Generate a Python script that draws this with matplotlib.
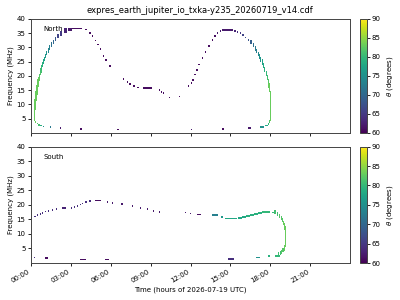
import numpy as np
import matplotlib
matplotlib.use("Agg")
import matplotlib.pyplot as plt
from matplotlib.collections import PolyCollection
from matplotlib.colors import Normalize

title = "expres_earth_jupiter_io_txka-y235_20260719_v14.cdf"
xtick_hours = [0, 3, 6, 9, 12, 15, 18, 21]
xtick_labels = ["00:00", "03:00", "06:00", "09:00", "12:00", "15:00", "18:00", "21:00"]

# North hemisphere: start hour, duration (h), frequency (MHz), frequency span (MHz), theta (deg)
north_t = [3.7, 6.5, 12.0, 14.4, 16.3,
           2.2, 1.4, 0.9, 0.7, 0.55, 0.42, 0.32,
           0.22, 0.21, 0.21, 0.21, 0.22, 0.23, 0.25, 0.27, 0.30, 0.33, 0.36, 0.40,
           0.44, 0.48, 0.53, 0.58, 0.64, 0.70, 0.76, 0.83, 0.90, 0.98, 1.06, 1.15,
           1.25, 1.36, 1.48, 1.62, 1.78, 1.97, 2.20, 2.50, 2.80, 3.1,
           4.1, 4.4, 4.6, 4.8, 5.0, 5.2, 5.4, 5.6, 5.9, 6.9, 7.2, 7.4, 7.7, 8.0,
           8.4, 9.6, 9.8, 9.9, 10.4, 11.1, 11.8, 12.0, 12.15, 12.3, 12.45, 12.6,
           12.85, 13.1, 13.35, 13.6, 13.8, 14.0, 14.2, 14.4,
           15.3, 15.5, 15.7, 15.9, 16.1, 16.3, 16.5, 16.7, 16.85, 16.95, 17.05,
           17.15, 17.25, 17.35, 17.45, 17.55, 17.65, 17.72, 17.8, 17.86,
           17.92, 17.95, 17.97, 17.97, 17.97, 17.97, 17.97, 17.97, 17.97, 17.92,
           17.8, 17.6, 17.2]
north_dur = [0.1, 0.0, 0.1, 0.15, 0.25,
             0.0, 0.0, 0.1, 0.0, 0.0, 0.0, 0.05,
             0.08, 0.08, 0.10, 0.10, 0.12, 0.12, 0.14, 0.15, 0.16, 0.16, 0.16, 0.15,
             0.14, 0.13, 0.12, 0.10, 0.08, 0.08, 0.07, 0.07, 0.07, 0.06, 0.06, 0.06,
             0.06, 0.06, 0.07, 0.08, 0.1, 0.12, 0.15, 0.2, 0.25, 0.75,
             0.1, 0.0, 0.0, 0.0, 0.0, 0.0, 0.0, 0.0, 0.0, 0.0, 0.0, 0.0, 0.0, 0.0,
             0.7, 0.0, 0.0, 0.0, 0.0, 0.0, 0.0, 0.0, 0.0, 0.0, 0.0, 0.0,
             0.0, 0.0, 0.0, 0.0, 0.0, 0.1, 0.1, 0.8,
             0.1, 0.1, 0.1, 0.1, 0.1, 0.1, 0.1, 0.08, 0.05, 0.05, 0.05,
             0.05, 0.05, 0.05, 0.05, 0.05, 0.05, 0.05, 0.05, 0.05,
             0.05, 0.05, 0.05, 0.05, 0.05, 0.05, 0.05, 0.05, 0.05, 0.05,
             0.1, 0.2, 0.3]
north_f = [1.5, 1.2, 1.2, 1.5, 1.7,
           1.8, 2.0, 2.3, 2.6, 2.9, 3.3, 3.8,
           4.5, 5.5, 6.5, 7.5, 8.5, 9.5, 10.5, 11.5, 12.5, 13.5, 14.5, 15.5,
           16.5, 17.5, 18.5, 19.5, 20.5, 21.5, 22.5, 23.5, 24.5, 25.5, 26.5, 27.5,
           28.5, 29.5, 30.5, 31.5, 32.5, 33.5, 34.5, 35.5, 36.2, 36.7,
           36.3, 35.0, 34.0, 32.5, 31.0, 29.5, 27.0, 25.5, 23.5, 19.0, 18.0, 17.2, 16.6, 16.0,
           15.7, 15.0, 14.5, 14.0, 12.5, 12.8, 16.5, 17.5, 18.5, 20.5, 22.0, 24.0,
           26.3, 28.5, 30.6, 32.6, 34.0, 35.0, 35.7, 36.1,
           35.8, 35.4, 35.0, 34.3, 33.5, 32.6, 31.5, 30.3, 29.2, 28.2, 27.3,
           26.3, 25.3, 24.3, 23.1, 21.8, 20.3, 18.9, 17.4, 16.0,
           14.6, 13.2, 11.8, 10.4, 9.0, 7.6, 6.2, 5.2, 4.4, 3.7,
           3.1, 2.6, 2.2]
north_df = ([0.0] * 5 + [0.0] * 7 + [1.0] * 32 + [0.5, 0.0] + [0.0] * 14 + [0.0] * 12
            + [0.0] * 8 + [0.0] * 6 + [0.9] * 5 + [1.2] * 9 + [1.3] * 9 + [0.5] + [0.0] * 3)
north_theta = [61, 61, 62, 61, 62,
               62, 72, 75, 79, 81, 82, 83,
               83, 83, 83, 83, 83, 83, 83, 83, 83, 83, 83, 83,
               83, 83, 83, 82, 82, 81, 80, 79, 78, 77, 76, 75,
               74, 73, 71, 70, 68, 66, 65, 63, 62, 61,
               61, 61, 61, 61, 61, 61, 61, 61, 61, 61, 61, 61, 61, 61,
               61, 61, 61, 61, 61, 61, 61, 61, 61, 61, 61, 61,
               61, 61, 61, 61, 61, 62, 62, 62,
               63, 64, 65, 66, 67, 68, 69, 71, 72, 73, 74,
               75, 76, 77, 78, 79, 80, 81, 82, 83,
               83, 83, 83, 83, 83, 83, 83, 83, 83, 82,
               80, 78, 75]

# South hemisphere
south_t = [0.2, 1.05, 3.65, 5.6,
           0.02, 0.25, 0.45, 0.65, 0.85, 1.05, 1.3, 1.55, 1.85, 2.3, 3.0, 3.25,
           3.45, 3.65, 3.85, 4.1, 4.4, 4.8, 5.7, 6.1, 6.8, 7.6, 8.2, 8.7, 9.2,
           9.6, 11.6, 11.95, 12.5,
           13.6, 14.3, 14.6, 15.6, 15.9, 16.2, 16.5, 16.8, 17.1, 17.4, 18.1,
           18.3, 18.5, 18.65, 18.78, 18.88, 18.96, 19.02, 19.06, 19.08, 19.08,
           19.08, 19.08, 19.08, 19.08, 19.05, 19.0, 18.92, 18.82, 18.7, 18.55,
           18.35, 17.8, 16.9, 14.8]
south_dur = [0.0, 0.2, 0.5, 0.3,
             0.0, 0.0, 0.0, 0.0, 0.0, 0.0, 0.0, 0.0, 0.1, 0.35, 0.0, 0.0,
             0.0, 0.0, 0.0, 0.1, 0.1, 0.5, 0.0, 0.0, 0.0, 0.0, 0.0, 0.0, 0.0,
             0.0, 0.0, 0.0, 0.3,
             0.45, 0.15, 0.9, 0.25, 0.25, 0.25, 0.25, 0.25, 0.25, 0.6, 0.2,
             0.15, 0.1, 0.08, 0.06, 0.05, 0.05, 0.05, 0.05, 0.05, 0.05,
             0.05, 0.05, 0.05, 0.05, 0.05, 0.05, 0.05, 0.05, 0.05, 0.1,
             0.35, 0.2, 0.3, 0.5]
south_f = [1.9, 1.6, 1.2, 1.2,
           15.5, 16.0, 16.5, 16.9, 17.3, 17.7, 18.0, 18.3, 18.6, 18.8, 19.0, 19.3,
           19.7, 20.1, 20.5, 21.0, 21.3, 21.5, 21.1, 20.7, 20.2, 19.7, 19.0, 18.5, 18.0,
           17.6, 17.4, 17.0, 16.7,
           16.4, 15.9, 15.3, 15.6, 15.9, 16.2, 16.5, 16.9, 17.3, 17.6, 17.4,
           17.0, 16.5, 15.9, 15.2, 14.4, 13.5, 12.6, 11.6, 10.6, 9.6,
           8.6, 7.6, 6.6, 5.8, 5.1, 4.5, 4.0, 3.5, 3.1, 2.8,
           2.5, 2.3, 1.9, 1.5]
south_df = [0.0] * 4 + [0.0] * 29 + [0.0] * 11 + [0.8] * 10 + [0.8] * 10 + [0.0] * 4
south_theta = [64, 61, 61, 61,
               64, 64, 64, 64, 64, 64, 64, 64, 64, 63, 64, 64,
               64, 64, 64, 64, 64, 61, 62, 62, 62, 62, 62, 62, 62,
               62, 62, 62, 61,
               73, 76, 78, 78, 78, 79, 79, 79, 79, 80, 80,
               81, 81, 82, 82, 82, 83, 83, 83, 83, 83,
               83, 83, 83, 83, 83, 83, 82, 82, 81, 81,
               80, 79, 75, 64]

cmap = plt.get_cmap("viridis")
norm = Normalize(vmin=60, vmax=90)
fs = 5

fig = plt.figure(figsize=(4, 3), dpi=100)
fig.text(0.5, 0.965, title, ha="center", va="center", fontsize=6)

panels = [
    ("North", north_t, north_dur, north_f, north_df, north_theta, [0.0775, 0.5567, 0.7975, 0.38]),
    ("South", south_t, south_dur, south_f, south_df, south_theta, [0.0775, 0.1233, 0.7975, 0.3877]),
]
cb_x = 0.9

for i, (name, t, dur, f, df, th, rect) in enumerate(panels):
    ax = fig.add_axes(rect)
    verts = []
    for t0, d, f0, h in zip(t, dur, f, df):
        x0, x1 = t0, t0 + max(d, 0.09)
        y0, y1 = f0 - 0.3, f0 + h + 0.3
        verts.append([(x0, y0), (x1, y0), (x1, y1), (x0, y1)])
    pc = PolyCollection(verts, cmap=cmap, norm=norm, linewidths=0, antialiaseds=False)
    pc.set_array(np.array(th, dtype=float))
    ax.add_collection(pc)
    ax.set_xlim(0, 24)
    ax.set_ylim(0, 40)
    ax.set_yticks(range(5, 45, 5))
    ax.set_xticks(xtick_hours)
    ax.set_ylabel("Frequency (MHz)", fontsize=fs, labelpad=2)
    ax.tick_params(labelsize=fs, length=2.5, width=0.6, pad=1.5)
    for s in ax.spines.values():
        s.set_linewidth(0.7)
        s.set_color("#444444")
    ax.text(0.038, 0.91, name, transform=ax.transAxes, fontsize=fs,
            ha="left", va="center")
    if i == 0:
        ax.set_xticklabels([])
    else:
        ax.set_xticklabels(xtick_labels, rotation=30, ha="right")
        ax.set_xlabel("Time (hours of 2026-07-19 UTC)", fontsize=fs, labelpad=2)
    cax = fig.add_axes([cb_x, rect[1], 0.0175, rect[3]])
    cb = fig.colorbar(pc, cax=cax)
    cb.set_ticks(range(60, 95, 5))
    cb.set_label(r"$\theta$ (degrees)", fontsize=fs, labelpad=3)
    cb.ax.tick_params(labelsize=fs, length=2, width=0.6, pad=1.5)
    cb.outline.set_linewidth(0.7)
    cb.outline.set_edgecolor("#444444")

fig.savefig("out.png", dpi=100)
